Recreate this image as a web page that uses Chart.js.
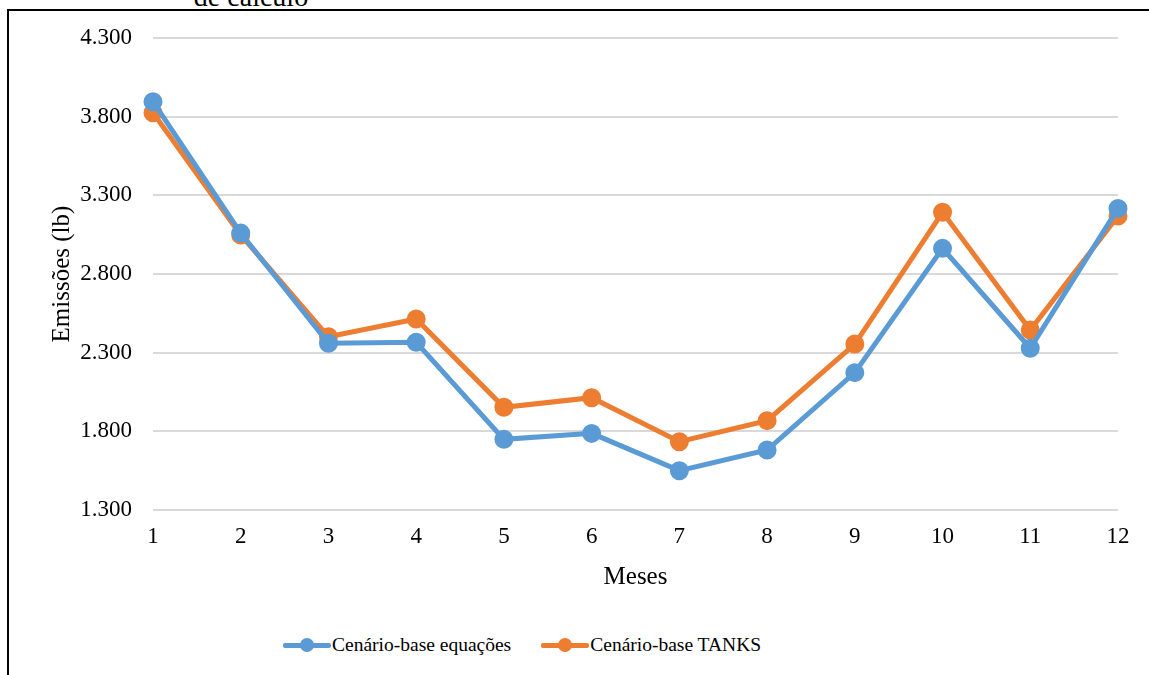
<!DOCTYPE html>
<html>
<head>
<meta charset="utf-8">
<script src="https://cdn.jsdelivr.net/npm/chart.js@4"></script>
<style>
  body { margin: 0; background: #fff; width: 1149px; height: 675px; overflow: hidden; position: relative; font-family: "Liberation Serif", "Times New Roman", serif; }
  .frame { position: absolute; left: 7px; top: 9px; width: 1200px; height: 720px; border: 2px solid #000; box-sizing: border-box; }
  .caption { position: absolute; left: 151px; top: -19px; width: 200px; text-align: center; font-family: "Liberation Serif", serif; font-size: 28px; color: #000; }
  .chart-box { position: absolute; left: 0; top: 0; width: 1149px; height: 604px; }
  .canvas_legend { position: absolute; left: 283px; top: 633px; margin: 0; padding: 0; list-style: none; display: flex; justify-content: flex-start; }
  .canvas_legend__item { display: flex; align-items: center; margin: 0 30px 0 0; }
  .canvas_legend__box { position: relative; display: inline-block; width: 48px; height: 5px; margin-right: 1px; border-radius: 2px; }
  .canvas_legend__box::after { content: ""; position: absolute; left: 17px; top: -5px; width: 14px; height: 14px; border-radius: 50%; background: inherit; }
  .canvas_legend__label { margin: 0; font-family: "Liberation Serif", serif; font-size: 19.5px; line-height: 24px; color: #000; }
</style>
</head>
<body>
<div class="caption">de cálculo</div>
<div class="frame"></div>
<div class="chart-box"><canvas id="lineChart"></canvas></div>
<div id="legend-container"></div>
<script>
"use strict";

const meses = ["1", "2", "3", "4", "5", "6", "7", "8", "9", "10", "11", "12"];
const equacoes = [3895, 3060, 2360, 2366, 1749, 1787, 1550, 1681, 2173, 2963, 2328, 3217];
const tanks = [3825, 3048, 2401, 2514, 1953, 2014, 1734, 1868, 2355, 3192, 2444, 3169];
const yTicks = [1300, 1800, 2300, 2800, 3300, 3800, 4300];

const FONT = "'Liberation Serif', 'Times New Roman', serif";

function fmt(v) {
  return String(v).replace(/\B(?=(\d{3})+(?!\d))/g, ".");
}

const htmlLegendPlugin = {
  id: "htmlLegend",
  afterUpdate(chart, args, options) {
    const container = document.getElementById(options.containerID);
    let ul = container.querySelector("ul");
    if (!ul) {
      ul = document.createElement("ul");
      ul.classList.add("canvas_legend");
      container.appendChild(ul);
    }
    while (ul.firstChild) {
      ul.firstChild.remove();
    }
    chart.data.datasets.forEach((ds) => {
      const li = document.createElement("li");
      li.classList.add("canvas_legend__item");
      const boxSpan = document.createElement("span");
      boxSpan.classList.add("canvas_legend__box");
      boxSpan.style.background = ds.borderColor;
      const p = document.createElement("p");
      p.classList.add("canvas_legend__label");
      p.appendChild(document.createTextNode(ds.label));
      li.appendChild(boxSpan);
      li.appendChild(p);
      ul.appendChild(li);
    });
  },
};

let context = document.querySelector("#lineChart").getContext("2d");
new Chart(context, {
  type: "line",
  data: {
    labels: meses,
    datasets: [
      {
        label: "Cenário-base equações",
        data: equacoes,
        borderColor: "#5b9bd5",
        backgroundColor: "#5b9bd5",
        borderWidth: 5,
        pointRadius: 7,
        pointHoverRadius: 7,
        tension: 0,
      },
      {
        label: "Cenário-base TANKS",
        data: tanks,
        borderColor: "#ed7d31",
        backgroundColor: "#ed7d31",
        borderWidth: 5,
        pointRadius: 7,
        pointHoverRadius: 7,
        tension: 0,
      },
    ],
  },
  options: {
    responsive: true,
    maintainAspectRatio: false,
    animation: false,
    layout: {
      padding: { left: 47, right: 31, top: 38, bottom: 12 },
    },
    plugins: {
      legend: { display: false },
      tooltip: { enabled: false },
      htmlLegend: { containerID: "legend-container" },
    },
    scales: {
      x: {
        offset: false,
        afterFit: (axis) => {
          axis.height = 82;
        },
        grid: { display: false, drawTicks: false },
        border: { display: false },
        ticks: {
          color: "#000",
          padding: 13,
          maxRotation: 0,
          font: { family: FONT, size: 23 },
        },
        title: {
          display: true,
          text: "Meses",
          color: "#000",
          padding: { top: 11, bottom: 0 },
          font: { family: FONT, size: 25 },
        },
      },
      y: {
        min: 1300,
        max: 4300,
        afterBuildTicks: (axis) => {
          axis.ticks = yTicks.map((v) => ({ value: v }));
        },
        afterFit: (axis) => {
          axis.width = 106;
        },
        grid: { color: "#d9d9d9", lineWidth: 2, drawTicks: false },
        border: { display: false },
        ticks: {
          color: "#000",
          padding: 21,
          font: { family: FONT, size: 23 },
          callback: function (value) {
            return fmt(value);
          },
        },
        title: {
          display: true,
          text: "Emissões (lb)",
          color: "#000",
          padding: { top: 0, bottom: 3 },
          font: { family: FONT, size: 25 },
        },
      },
    },
  },
  plugins: [htmlLegendPlugin],
});
</script>
</body>
</html>
